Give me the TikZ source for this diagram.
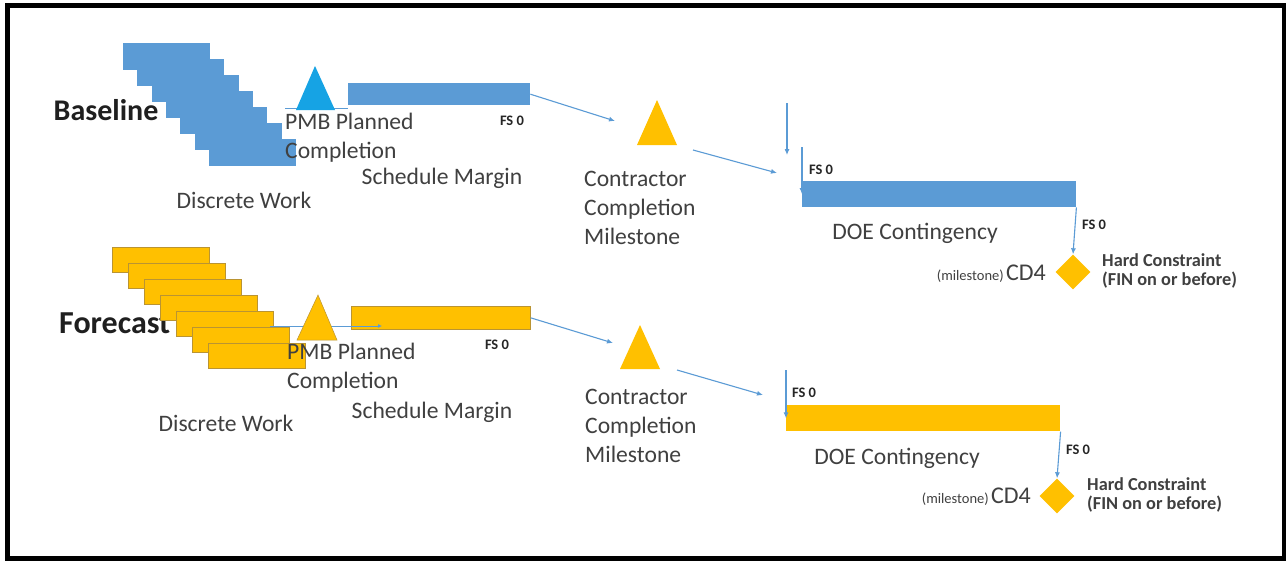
\documentclass[tikz,border=0pt]{standalone}
\usepackage{fontspec}
\setmainfont{Carlito}
\usetikzlibrary{arrows.meta,shapes.geometric}
\definecolor{barblue}{RGB}{91,155,213}
\definecolor{pmbblue}{RGB}{22,163,228}
\definecolor{gold}{RGB}{255,192,0}
\definecolor{goldedge}{RGB}{186,148,50}
\definecolor{txt}{RGB}{64,64,64}
\definecolor{linkblue}{RGB}{91,155,213}
\begin{document}
\begin{tikzpicture}[x=1pt,y=-1pt,
  lbl/.style={font=\fontsize{23.6}{29}\selectfont, text=txt, inner sep=0, align=left},
  fs/.style={font=\bfseries\fontsize{14.5}{16}\selectfont, text=black!85, inner sep=0},
  rowtitle/.style={font=\bfseries\fontsize{30}{34}\selectfont, text=black!88, inner sep=0},
  hard/.style={font=\bfseries\fontsize{18.3}{19}\selectfont, text=txt, inner sep=0, align=left},
  milest/.style={text=txt, inner sep=0, anchor=base east},
  link/.style={draw=linkblue, line width=1.1pt, -{Latex[length=6pt,width=5pt]}},
  bluebar/.style={fill=barblue, draw=none, inner sep=0, anchor=north west},
  goldbar/.style={fill=gold, draw=goldedge, line width=0.6pt, inner sep=0, anchor=north west},
  cd4mark/.style={diamond, fill=gold, draw=none, minimum width=35, minimum height=35, inner sep=0},
]
\useasboundingbox (0,0) rectangle (1286,560);
\fill[white] (0,0) rectangle (1286,560);

% ---------------- Baseline row ----------------
\node[rowtitle] (tbase) at (106,110) {Baseline};
% discrete work staircase
\foreach \i in {0,...,6}
  \fill[barblue] ({123+14.3*\i},{43+16*\i}) rectangle +(87,27);
% link from discrete work to schedule margin
\coordinate (dwa) at (285,108);
\coordinate (sma-in) at (348,108);
\draw[draw=linkblue, line width=1pt] (dwa) -- (sma-in);
% PMB planned completion milestone
\fill[pmbblue] (315,66) -- (335,110) -- (296,110) -- cycle;
% schedule margin bar
\node[bluebar, minimum width=182, minimum height=22] (smba) at (348,83) {};
\node[fs] at (512,121) {FS 0};
% contractor completion milestone
\fill[gold] (657,100) -- (677,145) -- (637,145) -- cycle;
\coordinate (cca-in) at (615,121);
\coordinate (cca-out) at (693,150);
\draw[link] (smba.east) -- (cca-in);
% DOE contingency bar
\node[bluebar, minimum width=274, minimum height=26] (doea) at (802,181) {};
\coordinate (doea-from) at (777,173);
\draw[link] (cca-out) -- (doea-from);
\coordinate (drop-a1) at (787,103);
\coordinate (drop-a2) at (787,155);
\draw[link] (drop-a1) -- (drop-a2);
\coordinate (pred-a) at (802,147);
\draw[link] (pred-a) -- (doea.west);
\node[fs] at (821,170) {FS 0};
% CD4 milestone
\node[cd4mark] (cd4a) at (1073,272) {};
\draw[link] (doea.south east) -- (cd4a.north);
\node[fs] at (1094,225) {FS 0};

\node[lbl, anchor=west] (pmba) at (285,137.5) {PMB Planned\\Completion};
\node[lbl] (smla) at (442,178) {Schedule Margin};
\node[lbl] (dwla) at (244,200) {Discrete Work};
\node[lbl, anchor=west] (ccla) at (584,207.5) {Contractor\\Completion\\Milestone};
\node[lbl] (doela) at (915,233) {DOE Contingency};
\node[milest] (cd4la) at (1046,280) {{\fontsize{14.5}{16}\selectfont (milestone)} {\fontsize{24}{26}\selectfont CD4}};
\node[hard, anchor=west] (hca) at (1102,271) {Hard Constraint\\(FIN on or before)};

% ---------------- Forecast row ----------------
\node[rowtitle, font=\bfseries\fontsize{32}{36}\selectfont, anchor=west] (tfore) at (59,323) {Forecast};
% discrete work stack
\foreach \i in {0,...,6}
  \filldraw[fill=gold, draw=goldedge, line width=0.6pt] ({112+16*\i},{247+16*\i}) rectangle +(97,25);
% schedule margin bar
\node[goldbar, minimum width=179, minimum height=23] (smbb) at (351,306) {};
% link from discrete work to schedule margin
\coordinate (dwb) at (270,326);
\coordinate (smb-in) at (382,326);
\draw[draw=linkblue, line width=1pt, -{Latex[length=4pt,width=4pt]}] (dwb) -- (smb-in);
% PMB planned completion milestone
\filldraw[fill=gold, draw=goldedge, line width=0.5pt] (318,295) -- (337,340) -- (297,340) -- cycle;
\node[fs] at (497,345) {FS 0};
% contractor completion milestone
\fill[gold] (640,325) -- (660,369) -- (620,369) -- cycle;
\coordinate (ccb-in) at (613,343);
\coordinate (ccb-out) at (677,370);
\draw[link] (smbb.east) -- (ccb-in);
% DOE contingency bar
\node[goldbar, draw=none, minimum width=274, minimum height=26] (doeb) at (786,405) {};
\coordinate (doeb-from) at (763,395);
\draw[link] (ccb-out) -- (doeb-from);
\coordinate (pred-b) at (786,370);
\draw[link] (pred-b) -- (doeb.west);
\node[fs] at (804,393) {FS 0};
% CD4 milestone
\node[cd4mark] (cd4b) at (1057,496) {};
\draw[link] (doeb.south east) -- (cd4b.north);
\node[fs] at (1078,450) {FS 0};

\node[lbl, anchor=west] (pmbb) at (287,367.5) {PMB Planned\\Completion};
\node[lbl] (smlb) at (432,412) {Schedule Margin};
\node[lbl] (dwlb) at (226,423) {Discrete Work};
\node[lbl, anchor=west] (cclb) at (585,426) {Contractor\\Completion\\Milestone};
\node[lbl] (doelb) at (897,458) {DOE Contingency};
\node[milest] (cd4lb) at (1031,503) {{\fontsize{14.5}{16}\selectfont (milestone)} {\fontsize{24}{26}\selectfont CD4}};
\node[hard, anchor=west] (hcb) at (1087,495) {Hard Constraint\\(FIN on or before)};

% frame
\draw[line width=5pt] (7.5,5.5) rectangle (1284,558.5);
\end{tikzpicture}
\end{document}
